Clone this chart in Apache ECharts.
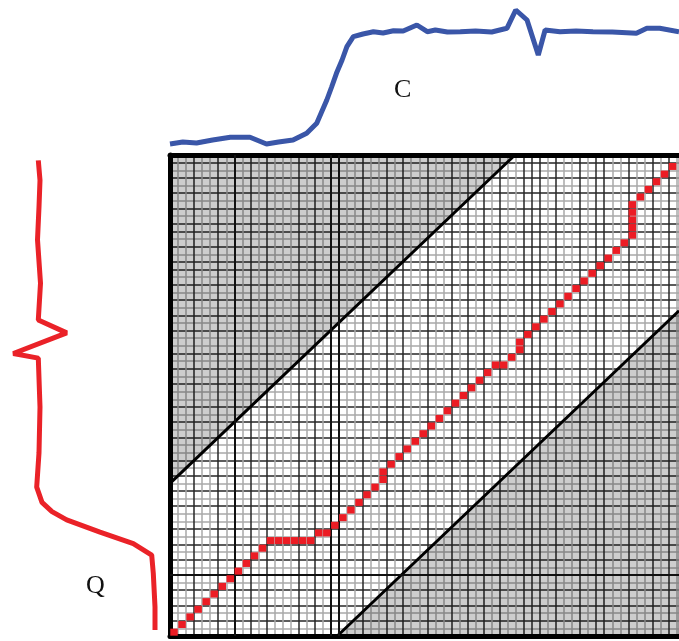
<!DOCTYPE html>
<html>
<head>
    <meta charset="utf-8" />
    <script src="https://cdn.jsdelivr.net/npm/echarts@6/dist/echarts.min.js"></script>
    <style>
        html, body { margin: 0; padding: 0; background: #fff; }
        #main { width: 679px; height: 641px; }
    </style>
</head>
<body>
    <div id="main"></div>
    <script>
        // series C (top, blue) : position along columns, amplitude
        var cPos = [0, 1.6, 3.3, 5.3, 7.5, 9.95, 12.0, 13.5, 15.3, 17.0, 18.25, 18.8, 19.5, 20.1, 20.7, 21.4, 22.0, 22.8, 24, 25.3, 26.5, 27.8, 29, 30.7, 32.0, 33, 34.5, 36.1, 38, 40, 41.9, 43.0, 44.4, 45.8, 46.65, 48.5, 50.5, 52.6, 55, 58.0, 59.3, 60.9, 63.3]
        var cVal = [6, 8, 7, 10, 12.7, 12.7, 6, 8, 10, 16.7, 26.7, 37, 50, 63, 76.7, 90, 103.3, 113.3, 116, 118.3, 117, 119.3, 119, 125, 118.3, 120, 118, 118.3, 119, 118, 121.7, 140, 130, 95, 120, 118.3, 119, 118.3, 118, 116.7, 121.7, 121.7, 118.3]

        // series Q (left, red) : amplitude, position along rows
        var qVal = [131.7, 130, 131, 132.5, 129.5, 131.7, 103.3, 156.7, 131.7, 130, 131, 133.3, 128, 118, 103.3, 70, 36.7, 18.3, 16.7, 15, 15]
        var qPos = [62.3, 59.7, 56.2, 51.9, 46.2, 41.4, 39.7, 37.0, 36.4, 30.0, 24, 19.5, 17.5, 16.3, 15.2, 13.6, 12.1, 10.6, 8.2, 3.8, 0.8]

        // warping path cells
        var pathCol = [0,1,2,3,4,5,6,7,8,9,10,11,12,13,14,15,16,17,18,19,20,21,22,23,24,25,26,26,27,28,29,30,31,32,33,34,35,36,37,38,39,40,41,42,43,43,44,45,46,47,48,49,50,51,52,53,54,55,56,57,57,57,57,57,58,59,60,61,62,63]
        var pathRow = [0,1,2,3,4,5,6,7,8,9,10,11,12,12,12,12,12,12,13,13,14,15,16,17,18,19,20,21,22,23,24,25,26,27,28,29,30,31,32,33,34,35,35,36,37,38,39,40,41,42,43,44,45,46,47,48,49,50,51,52,53,54,55,56,57,58,59,60,61,62]

        // warping window edges
        var upperEdge = [[0, 20.0], [42.9, 63]]
        var lowerEdge = [[20.8, 0], [63.3, 42.6]]

        var nCols = 63.3
        var nRows = 63

        // which grid lines look dark
        var vDark = [3,6,8,10,12,16,18,20,21,24,27,29,32,35,37,39,41,44,45,46,48,51,53,54,57,60,62]
        var hDark = [2,4,6,8,10,12,14,17,19,21,23,26,28,30,33,35,37,40,42,44,46,48,49,51,53,54,56,58,60,62]

        function lineColors(n, dark) {
            var out = []
            for (var i = 0; i <= n; i++) {
                out.push(dark.indexOf(i) >= 0 ? '#262626' : '#a8a8a8')
            }
            return out
        }

        var cData = cPos.map(function (p, i) { return [p, cVal[i]] })
        var qData = qVal.map(function (v, i) { return [v, qPos[i]] })
        var pathData = pathCol.map(function (c, i) { return [c + 0.5, pathRow[i] + 0.5] })

        var matLeft = 170
        var matTop = 155
        var matH = 481
        var border = { show: true, onZero: false, lineStyle: { color: '#000', width: 5 } }

        var option = {
            animation: false,
            backgroundColor: '#fff',
            title: [
                { text: 'C', left: 389, top: 72, textStyle: { fontFamily: 'Liberation Serif', fontSize: 26, fontWeight: 'normal', color: '#111' } },
                { text: 'Q', left: 81, top: 568, textStyle: { fontFamily: 'Liberation Serif', fontSize: 26, fontWeight: 'normal', color: '#111' } }
            ],
            grid: [
                { left: matLeft, top: matTop, right: 0, height: matH, show: true, backgroundColor: '#fff', borderWidth: 0 },
                { left: matLeft, top: 0, right: 0, height: 150 },
                { left: 0, top: matTop, width: 170, height: matH }
            ],
            xAxis: [
                { gridIndex: 0, type: 'value', min: 0, max: nCols, interval: 1, axisLine: border, axisTick: { show: false }, axisLabel: { show: false },
                  splitLine: { show: true, lineStyle: { color: lineColors(64, vDark), width: 1.5 } } },
                { gridIndex: 1, type: 'value', min: 0, max: nCols, show: false },
                { gridIndex: 2, type: 'value', min: 0, max: 170, inverse: true, show: false },
                { gridIndex: 0, type: 'value', position: 'top', min: 0, max: nCols, axisLine: border, axisTick: { show: false }, axisLabel: { show: false }, splitLine: { show: false } }
            ],
            yAxis: [
                { gridIndex: 0, type: 'value', min: 0, max: nRows, interval: 1, axisLine: border, axisTick: { show: false }, axisLabel: { show: false },
                  splitLine: { show: true, lineStyle: { color: lineColors(nRows, hDark), width: 1.5 } } },
                { gridIndex: 1, type: 'value', min: 0, max: 150, show: false },
                { gridIndex: 2, type: 'value', min: 0, max: nRows, show: false }
            ],
            series: [
                {
                    type: 'line', xAxisIndex: 0, yAxisIndex: 0, data: upperEdge, symbol: 'none',
                    lineStyle: { color: '#000', width: 3 },
                    areaStyle: { origin: 'end', color: 'rgba(0,0,0,0.28)' },
                    markLine: {
                        silent: true, symbol: 'none', label: { show: false },
                        lineStyle: { color: '#111', width: 2, type: 'solid', opacity: 1 },
                        data: [{ xAxis: 8 }, { xAxis: 20 }, { xAxis: 21 }, { yAxis: 8 }]
                    }
                },
                {
                    type: 'line', xAxisIndex: 0, yAxisIndex: 0, data: lowerEdge, symbol: 'none',
                    lineStyle: { color: '#000', width: 3 },
                    areaStyle: { origin: 'start', color: 'rgba(0,0,0,0.28)' }
                },
                {
                    type: 'scatter', xAxisIndex: 0, yAxisIndex: 0, data: pathData,
                    symbol: 'rect', symbolSize: [7.5, 7],
                    itemStyle: { color: '#ec1c24', opacity: 1 }, z: 5
                },
                {
                    type: 'line', xAxisIndex: 1, yAxisIndex: 1, data: cData, symbol: 'none',
                    lineStyle: { color: '#3a56a8', width: 5 }
                },
                {
                    type: 'line', xAxisIndex: 2, yAxisIndex: 2, data: qData, symbol: 'none',
                    lineStyle: { color: '#ea2228', width: 5 }
                }
            ]
        }

        var chart = echarts.init(document.getElementById('main'))
        chart.setOption(option)
    </script>
</body>
</html>
